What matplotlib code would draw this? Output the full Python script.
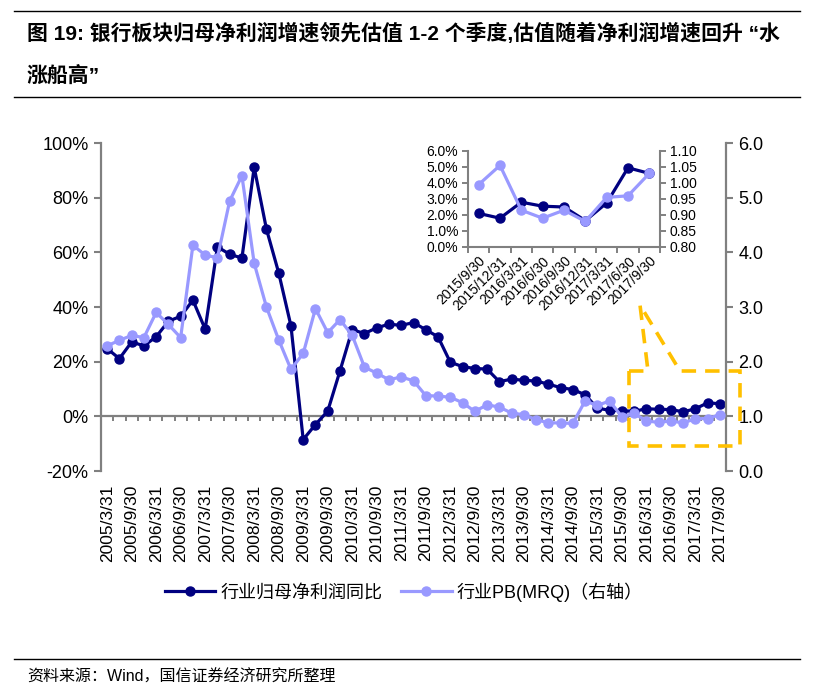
import matplotlib
matplotlib.use('Agg')
import matplotlib.pyplot as plt
import numpy as np
from matplotlib.lines import Line2D
from matplotlib.path import Path
from matplotlib.patches import PathPatch

plt.rcParams['font.family'] = ['Liberation Sans', 'Noto Sans CJK SC', 'DejaVu Sans']

# --- data (quarterly, 2005Q1 .. 2017Q3) ---
quarters = [f'{y}/{md}' for y in range(2005, 2018)
            for md in ('3/31', '6/30', '9/30', '12/31')][:51]

profit_growth = [24.8, 21.1, 27.2, 25.8, 29.1, 34.8, 36.6, 42.5, 31.9, 62.0,
                 59.3, 57.9, 91.1, 68.5, 52.5, 33.1, -8.5, -3.0, 1.9, 16.6,
                 31.7, 30.3, 32.4, 33.7, 33.3, 34.3, 31.7, 29.1, 19.8, 18.2,
                 17.5, 17.3, 12.7, 13.6, 13.2, 12.9, 11.8, 10.5, 9.8, 7.9,
                 3.0, 2.2, 2.1, 1.8, 2.8, 2.55, 2.5, 1.65, 2.75, 4.95, 4.6]

pb_mrq = [2.29, 2.39, 2.48, 2.44, 2.90, 2.68, 2.44, 4.13, 3.95, 3.90,
          4.94, 5.40, 3.80, 3.00, 2.40, 1.86, 2.15, 2.97, 2.53, 2.77,
          2.48, 1.90, 1.79, 1.67, 1.72, 1.65, 1.38, 1.37, 1.35, 1.25,
          1.09, 1.21, 1.17, 1.06, 1.03, 0.94, 0.88, 0.88, 0.87, 1.28,
          1.20, 1.28, 0.995, 1.055, 0.915, 0.89, 0.915, 0.88, 0.955, 0.96, 1.03]

inset_start = 42  # 2015/9/30

dark = '#000080'
light = '#9999FF'
grey = '#808080'
gold = '#FFC000'

W, H = 839, 699
fig = plt.figure(figsize=(W / 100, H / 100), dpi=100)

def fx(px):
    return px / W

def fy(py):
    return 1 - py / H

# --- header / footer rules and text ---
for yy in (11, 97, 659):
    fig.add_artist(Line2D([fx(14), fx(800)], [fy(yy), fy(yy)], color='black', lw=1.0))

fig.text(fx(27), fy(33), '图 19: 银行板块归母净利润增速领先估值 1-2 个季度,估值随着净利润增速回升 “水',
         fontsize=15, fontweight='bold', ha='left', va='center')
fig.text(fx(27), fy(76), '涨船高”', fontsize=15, fontweight='bold', ha='left', va='center')
fig.text(fx(27), fy(677), '资料来源：Wind，国信证券经济研究所整理', fontsize=11.5,
         ha='left', va='center')

# --- main chart ---
ax = fig.add_axes([fx(101), fy(471), fx(726) - fx(101), fy(143) - fy(471)])
x = np.arange(len(quarters))

ax.axhline(0, color=grey, lw=1.6, zorder=1)
ax.vlines(np.arange(-0.5, len(quarters)), -1.6, 0, color=grey, lw=1.4, zorder=1)
ax.plot(x, profit_growth, color=dark, lw=2.3, marker='o', ms=6.5, zorder=3)
ax.set_xlim(-0.5, len(quarters) - 0.5)
ax.set_ylim(-20, 100)
ax.set_yticks(np.arange(-20, 101, 20))
ax.set_yticklabels([f'{v}%' for v in range(-20, 101, 20)])
ax.set_xticks(x[::2])
ax.set_xticklabels(quarters[::2], rotation=90, fontsize=12.5)
ax.tick_params(axis='x', length=0, pad=10)
ax.tick_params(axis='y', colors=grey, labelcolor='black', labelsize=13,
               length=5, width=1.5, direction='out', pad=4)
for s in ('top', 'bottom', 'right'):
    ax.spines[s].set_visible(False)
ax.spines['left'].set_color(grey)
ax.spines['left'].set_linewidth(1.6)

ax2 = ax.twinx()
ax2.plot(x, pb_mrq, color=light, lw=2.3, marker='o', ms=6.5, zorder=3)
ax2.set_ylim(0, 6)
ax2.set_yticks(np.arange(0, 6.1, 1))
ax2.set_yticklabels([f'{v:.1f}' for v in np.arange(0, 6.1, 1)])
ax2.tick_params(axis='y', colors=grey, labelcolor='black', labelsize=13,
                length=5, width=1.5, direction='out', pad=4)
for s in ('top', 'bottom', 'left'):
    ax2.spines[s].set_visible(False)
ax2.spines['right'].set_color(grey)
ax2.spines['right'].set_linewidth(1.6)

# --- dashed callout box ---
pts = [(629, 371), (648, 371), (640, 305), (680, 371), (740, 371),
       (740, 446), (629, 446), (629, 371)]
verts = [(fx(a), fy(b)) for a, b in pts]
codes = [Path.MOVETO] + [Path.LINETO] * (len(verts) - 1)
callout = PathPatch(Path(verts, codes), transform=fig.transFigure, fill=False,
                    edgecolor=gold, lw=2.6, linestyle=(0, (4, 2.5)), zorder=10)
fig.add_artist(callout)

# --- inset ---
iq = quarters[inset_start:]
ig = profit_growth[inset_start:]
ip = pb_mrq[inset_start:]
xi = np.arange(len(iq))

axi = fig.add_axes([fx(468), fy(247), fx(660) - fx(468), fy(151) - fy(247)])
axi.plot(xi, ig, color=dark, lw=2.3, marker='o', ms=6.5, zorder=3)
axi.set_xlim(-0.5, len(iq) - 0.5)
axi.set_ylim(0, 6)
axi.set_yticks(np.arange(0, 6.1, 1))
axi.set_yticklabels([f'{v:.1f}%' for v in np.arange(0, 6.1, 1)])
axi.set_xticks(np.arange(-0.5, len(iq)))
axi.set_xticklabels([])
axi.set_xticks(xi, minor=True)
axi.set_xticklabels(iq, minor=True, rotation=45, ha='right', rotation_mode='anchor',
                    fontsize=10)
axi.tick_params(axis='x', which='major', colors=grey, length=4, width=1.4, direction='out')
axi.tick_params(axis='x', which='minor', length=0, pad=5)
axi.tick_params(axis='y', colors=grey, labelcolor='black', labelsize=10,
                length=4, width=1.4, direction='out', pad=3)
for s in ('top', 'right'):
    axi.spines[s].set_visible(False)
for s in ('left', 'bottom'):
    axi.spines[s].set_color(grey)
    axi.spines[s].set_linewidth(1.5)

axi2 = axi.twinx()
axi2.plot(xi, ip, color=light, lw=2.3, marker='o', ms=6.5, zorder=3)
axi2.set_ylim(0.80, 1.10)
axi2.set_yticks(np.arange(0.80, 1.101, 0.05))
axi2.set_yticklabels([f'{v:.2f}' for v in np.arange(0.80, 1.101, 0.05)])
axi2.tick_params(axis='y', colors=grey, labelcolor='black', labelsize=10,
                 length=4, width=1.4, direction='out', pad=3)
for s in ('top', 'left', 'bottom'):
    axi2.spines[s].set_visible(False)
axi2.spines['right'].set_color(grey)
axi2.spines['right'].set_linewidth(1.5)

# --- legend ---
handles = [Line2D([], [], color=dark, lw=2.3, marker='o', ms=6.5),
           Line2D([], [], color=light, lw=2.3, marker='o', ms=6.5)]
fig.legend(handles, ['行业归母净利润同比', '行业PB(MRQ)（右轴）'], loc='center',
           bbox_to_anchor=(fx(404), fy(592)), ncol=2, frameon=False, fontsize=13,
           handlelength=2.8, columnspacing=1.0, handletextpad=0.3, numpoints=1)

fig.savefig('out.png', dpi=100)
